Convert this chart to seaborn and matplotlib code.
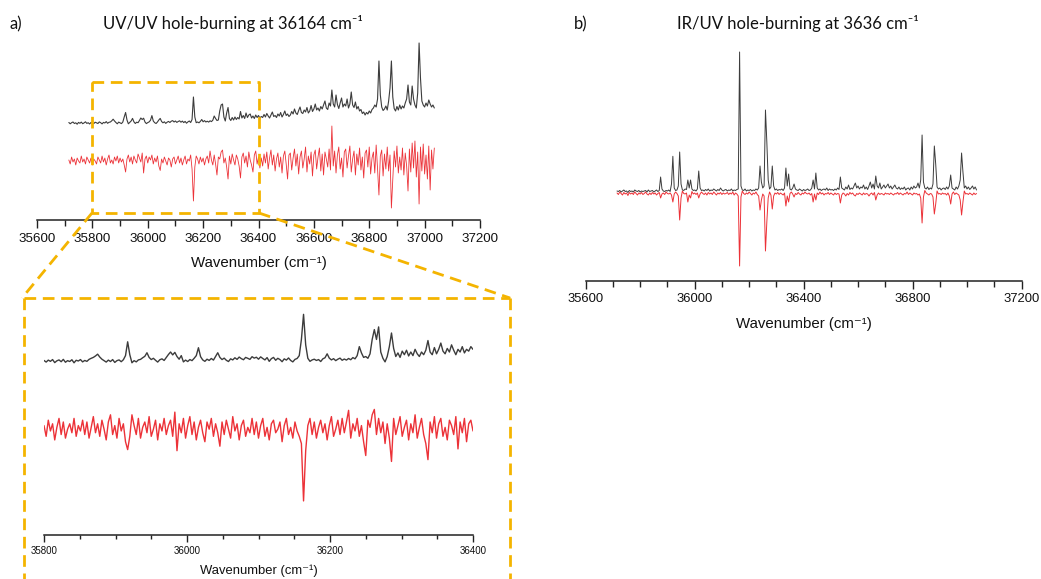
import numpy as np
import pandas as pd
import matplotlib
matplotlib.use("Agg")
import matplotlib.pyplot as plt
from matplotlib.lines import Line2D
from matplotlib.ticker import MultipleLocator
import seaborn as sns

# ---------------- data ----------------
WN_START = 35715      # first wavenumber of each overview trace (cm-1)
WN_STEP = 5           # sampling step of overview traces (cm-1)
INSET_START = 35800   # first wavenumber of the zoomed traces (cm-1)
INSET_STEP = 3        # sampling step of the zoomed traces (cm-1)

# a) UV/UV hole-burning: monitor trace (black) and hole-burning trace (red)
uvuv_monitor = [
    0.5, -0.8, 0.3, 1.0, -0.5, 0.2, -1.2, 0.6, -0.3, 0.9, -0.7, 0.1, 1.2, -0.4, 0.3, -1.0, 0.5, 0.0, -0.6, 0.8,
    0.2, -0.5, 1.1, 0.3, -0.9, 0.6, 0.0, 1.4, -0.3, 0.7, 1.0, 2.2, 3.8, 2.0, 0.5, -0.8, 0.9, 0.2, -0.6, 1.0,
    6.0, 10.5, 3.0, -0.8, 0.6, 2.0, 4.6, 1.2, -0.5, 0.8, 0.3, 2.5, 5.0, 3.5, 4.8, 1.0, -0.6, 0.4, 1.1, 2.8,
    7.4, 2.0, 0.3, -0.5, 1.0, 3.0, 4.6, 1.5, 0.2, 1.2, -0.4, 0.8, 1.6, 0.5, 1.8, 2.4, 1.0, 2.0, 0.6, 1.5,
    2.2, 0.8, 1.9, 0.4, 1.6, -0.2, 1.1, 2.0, 0.5, 3.5, 26.0, 6.0, 0.3, 1.0, 0.2, 1.6, 3.5, 1.2, 2.4, 1.0,
    1.8, 0.9, 2.2, 1.4, 2.8, 7.0, 4.5, 2.5, 3.0, 12.0, 18.0, 19.0, 6.0, 2.0, 10.0, 15.5, 4.5, 2.5, 5.5, 3.0,
    6.0, 3.5, 5.5, 4.0, 11.5, 5.0, 7.5, 4.5, 10.0, 5.5, 8.0, 9.0, 5.0, 7.0, 4.5, 8.0, 5.5, 7.5, 5.0, 6.5,
    5.5, 8.5, 6.0, 9.5, 7.0, 5.0, 8.0, 11.0, 6.5, 7.5, 5.5, 9.0, 7.0, 10.5, 6.0, 8.5, 12.0, 7.5, 9.0, 6.5,
    8.0, 11.5, 9.0, 14.0, 10.0, 8.5, 12.5, 16.0, 10.5, 9.5, 13.0, 11.0, 15.5, 10.0, 12.0, 17.5, 11.5, 14.0, 19.0, 13.0,
    15.0, 12.0, 16.5, 14.0, 18.0, 22.0, 15.0, 13.5, 20.0, 17.0, 33.0, 19.0, 16.0, 28.0, 18.5, 14.5, 20.0, 25.0, 16.0, 19.0,
    17.0, 24.0, 15.0, 19.0, 31.0, 18.0, 15.5, 21.0, 14.0, 16.5, 12.0, 13.5, 9.5, 11.0, 8.0, 10.5, 9.0, 12.0, 10.0, 13.5,
    15.0, 18.0, 16.0, 24.0, 62.0, 28.0, 16.0, 12.5, 14.0, 17.0, 13.0, 22.0, 35.0, 62.0, 26.0, 14.5, 12.0, 16.5, 13.0, 18.0,
    14.0, 17.0, 15.0, 20.0, 24.0, 38.0, 21.0, 18.0, 37.0, 24.0, 18.0, 15.0, 30.0, 80.0, 45.0, 22.0, 18.0, 16.0, 20.0, 17.0,
    23.0, 19.0, 16.0, 18.0, 15.0,
]
uvuv_burn = [
    1, -3, 4, -1, 2, -4, 3, 0, -2, 5, -1, 2, -3, 4, 1, -2, 3, -4, 2, 0,
    -3, 4, 1, -2, 5, -1, 3, -4, 2, 6, -2, 1, -3, 4, 0, 5, -2, 3, -1, 2,
    -4, -11, 2, 6, -1, 4, -3, 5, 1, -2, 7, 3, -1, 8, -12, 2, 5, -2, 4, 1,
    6, -3, 3, -1, 5, -5, -9.5, 2, -2, 4, 0, -4, 3, 1, -6, 2, 4, -3, 1, 5,
    -2, 3, -4, 1, 5, -3, 2, 0, 6, -8, -40, -6, 5, 2, -3, 4, -1, 3, -4, 2,
    5, -2, 10, 1, -4, 6, -3, -14, 4, 2, 9, 11, -2, 3, -6, -18, 5, -3, 7, 1,
    -4, 6, 2, -5, -17, 4, 8, -2, 5, -6, 9, 1, -4, -11, 6, 10, -3, 4, -7, 3,
    -5, 7, -2, 9, -8, 3, 11, -4, 6, -10, 2, 8, -6, 4, -12, 5, 10, -3, -18, 6,
    8, -9, 3, 12, -5, 7, -13, 4, 10, -7, 2, 14, -11, 5, -3, 9, -15, 6, 11, -8,
    4, 13, -10, 7, -14, 9, 2, -6, 12, -9, 35, -5, 10, -12, 6, 14, -8, 3, -16, 9,
    12, -7, 5, 15, -11, 2, 10, -14, 7, -4, 13, -9, 4, -17, 8, 11, -6, 14, -13, 3,
    9, -12, 16, -8, -34, 5, 11, -15, 7, -8, 14, -10, 6, -47, -18, 10, -6, 15, -12, 4,
    -9, 13, -14, 8, -5, -30, 12, -11, 18, -7, 20, -16, 9, -43, 14, -10, 17, -13, 6, -18,
    15, -29, 11, -8, 13,
]

# a) zoomed region 35800-36400 cm-1, read from the enlarged view
zoom_monitor = [
    0.3, -0.6, 0.5, -0.2, 0.8, -0.9, 0.1, 0.6, -0.4, 0.9, -0.7, 0.2, -0.3, 0.7, -1.0, 0.4, 0.0, 0.8, -0.5, 0.3,
    -0.2, 0.9, 1.5, 2.0, 2.8, 3.8, 2.2, 1.0, 0.2, -0.6, 0.5, -0.3, 0.8, -0.8, 0.2, 0.6, -0.4, 0.7, 3.0, 10.7,
    3.5, -1.0, 0.2, -0.5, 0.6, 0.9, 1.8, 2.6, 4.6, 2.0, 0.8, 1.5, 0.4, -0.6, 0.7, 1.2, 0.3, 2.0, 3.6, 5.0,
    3.4, 4.8, 2.5, 1.0, 3.0, -0.5, 0.5, -0.3, 0.8, 0.2, 1.5, 3.0, 7.4, 2.4, 0.6, -0.2, 1.0, 0.3, 1.4, 0.5,
    2.5, 4.6, 2.0, 0.8, 1.6, 0.4, -0.3, 1.2, 0.6, 1.8, 0.9, 2.2, 1.3, 0.7, 2.0, 1.5, 0.9, 2.4, 1.6, 2.1,
    1.0, 2.3, 1.4, 0.6, 1.9, -0.2, 1.3, 2.0, 0.4, 1.5, 0.8, -0.4, 1.2, 0.5, 1.7, 0.3, -0.5, 0.9, 1.4, 3.0,
    12.0, 26.0, 9.0, 1.5, -0.2, 0.6, 1.0, 0.3, 0.8, -0.3, 1.2, 1.8, 4.0, 1.6, 0.6, 1.3, 0.2, 1.0, 1.6, 0.4,
    1.1, 0.5, 1.4, 0.7, 1.9, 1.2, 3.0, 8.0, 4.5, 2.0, 2.5, 1.5, 4.0, 12.0, 17.5, 12.0, 19.0, 5.0, 1.5, -0.5,
    2.5, 8.0, 15.6, 7.0, 2.5, 4.5, 2.0, 5.5, 3.5, 6.0, 2.8, 5.0, 3.0, 6.5, 4.0, 2.5, 5.0, 3.5, 6.0, 11.4,
    5.0, 3.5, 7.5, 4.0, 6.5, 10.0, 5.5, 4.0, 7.0, 5.0, 9.0, 6.0, 3.5, 6.5, 5.0, 8.0, 4.5, 6.5, 5.5, 8.0,
    6.5,
]
zoom_burn = [
    2, -4, 5, -1, 3, -6, 1, 6, -3, 4, -5, 0, 3, -2, 6, -4, 2, -1, 5, -3,
    4, -5, 1, 7, -2, 3, -4, 5, 0, -6, 4, 8, -3, 2, -5, 6, -1, 3, -7, -11.4,
    -4, 8, 2, -3, 6, -5, 1, 4, -2, 7, -4, 0, 5, -6, 3, -1, 6, -3, 2, 5,
    -4, 9.5, -12, 3, -2, 6, -5, 2, 7, -3, 4, -6, 1, 5, -2, -7, 4, 0, 6, -4,
    3, -2, -9.5, 4, -3, 5, 0, -5, 7, -1, 3, -6, 2, 5, -4, 1, -2, 6, -3, 4,
    -5, 2, 6, -4, 1, -6, 3, 5, -2, 0, 4, -7, 2, 6, -3, 1, -5, 4, -1, -4,
    -8, -40, -12, 2, 6, -3, 4, -5, 1, 5, -2, 3, -6, 2, 7, -4, 0, 5, -3, 6,
    -2, 4, 10.5, -5, 3, -1, 6, -4, 2, -7, -14.7, 5, 1, 8, 11, -3, 6, -2, 4, -8,
    3, -5, -18, 6, -3, 2, 7, -4, 1, 5, -6, 3, -2, 8, -5, 1, 6, -3, -8, -17,
    4, -2, 7, -5, 3, 6, -4, 1, -6, 5, 2, -3, 7, -11, 4, -2, 6, -7, 3, 5,
    -1,
]

# b) IR/UV hole-burning: monitor trace (black) and hole-burning trace (red)
iruv_monitor = [
    1, 0.5, 1.5, 0, 1, 2, 0.5, 1, -0.5, 1.5, 0.5, 1, 0, 2, 1, 0.5, 1.5, 0, 1, 0.5,
    1, 1.5, 0, 2, 0.5, 1, 1.5, 0, 1, 2, 0.5, 1.5, 15, 3, 1, 0.5, 1.5, 1, 2, 0.5,
    8, 35.7, 4, 1.5, 2, 6, 40, 8, 2, 1.5, 3, 2.5, 12, 4, 12, 3, 1.5, 2, 1, 3,
    21, 4, 1.5, 2, 1, 2.5, 1.5, 3, 1, 2, 1.5, 3, 2, 1, 2.5, 1.5, 4, 2, 1, 2,
    2.5, 1, 2, 1.5, 3, 1, 2, 1.5, 2.5, 3, 140, 6, 2, 1.5, 3, 1, 2, 1.5, 2.5, 1,
    2, 1.5, 3, 2, 4, 26, 10, 4, 6, 82, 50, 12, 3, 5, 26, 6, 2, 3, 1.5, 2.5,
    2, 3, 1.5, 4, 24, 6, 18, 3, 2, 4, 8, 3, 2, 1.5, 3, 2, 1, 2.5, 1.5, 2,
    3, 1.5, 2, 4, 12, 3, 19, 4, 2, 3, 1.5, 2.5, 3, 2, 4, 1.5, 3, 2, 2.5, 1.5,
    3, 2, 4, 2.5, 15, 4, 3, 2, 5, 3, 7, 2.5, 4, 3, 6, 9, 4, 6, 3, 5,
    4, 7, 3, 5, 2.5, 6, 10, 4, 8, 3, 16, 6, 4, 9, 3, 5, 7, 4, 6, 8,
    4, 6, 3, 5, 7, 4, 3, 5, 2.5, 4, 3, 5, 2, 3.5, 4, 2, 5, 3, 6, 4,
    5, 9, 4, 12, 57, 10, 4, 3, 5, 2.5, 4, 3, 8, 46, 28, 5, 3, 4, 2, 3.5,
    4, 2.5, 5, 3, 6, 17, 4, 3, 2, 5, 3, 6, 12, 39, 20, 4, 6, 3, 5, 2.5,
    4, 6, 3, 5, 2,
]
iruv_burn = [
    -1, -2.5, 0, -1.5, -3, -0.5, -2, -1, -3.5, -0.5, -2, -1, -2.5, 0, -1.5, -3, -1, -2, -0.5, -2.5,
    -1.5, 0, -2, -3, -1, -2.5, -0.5, -2, -1, -3, -1.5, -0.5, -6, -2, -1, -2.5, 0, -1.5, -2, -1,
    -3, -10, -2, 0, -1.5, -4, -28, -6, 1, -1.5, -2, -1, -10, -3, -6, 0.5, -2, -1, -2.5, -1,
    -6, -2, 0, -1.5, -2.5, -1, -3, -0.5, -2, -1, -2.5, 0, -1.5, -3, -1, -2, -0.5, -2.5, -1, -2,
    -1.5, -0.5, -2.5, -1, -2, 0, -3, -1, -2, -4, -74, -5, 1, -1.5, -2.5, -1, -2, 0, -1.5, -3,
    -1, -2, 0, -2.5, -4, -18, -8, -2, -4, -59, -30, -6, 0, -3, -17, -4, -1, -2, -0.5, -2.5,
    -1, -2, -3, -1, -14, -4, -10, -1.5, 0, -2, -5, -1.5, -2.5, -0.5, -2, -3, -1, -2, 0, -1.5,
    -2, -1, -3, -1.5, -10, -2, -8, -1, -2.5, 0, -2, -1, -3, -1.5, -2, -0.5, -2.5, -1, -2, -3,
    -1, -2.5, -1.5, -2, -11, -3, -1, -2, -4, -1.5, -3, -0.5, -2, -1, -3, -4, -1.5, -2.5, -1, -2,
    -3, -1, -2.5, -1.5, -2, -4, -2, -1, -3, -0.5, -8, -3, -1, -2.5, -1.5, -2, -3, -1, -2, -1.5,
    -2.5, -1, -2, -3, -1.5, -2, -0.5, -2.5, -1, -2, -3, -1.5, -2, 0, -2.5, -1, -2, -3, -1, -2,
    -1.5, -3, -2, -6, -31, -5, 1.5, -1, -2, -3, -1.5, -2, -5, -22, -12, 1, -2, -1.5, -2.5, -1,
    -2, -1.5, -3, -1, -4, -12, -2, 0, -2.5, -1, -2, -3, -8, -23, -10, 1, -2, -1.5, -2.5, -1,
    -2, -3, -1, -2.5, -1.5,
]

ticks_a = [35600, 35800, 36000, 36200, 36400, 36600, 36800, 37000, 37200]
ticks_inset = [35800, 36000, 36200, 36400]
ticks_b = [35600, 36000, 36400, 36800, 37200]
zoom_range = (35800, 36400)

title_a = "UV/UV hole-burning at 36164 cm⁻¹"
title_b = "IR/UV hole-burning at 3636 cm⁻¹"
xlabel = "Wavenumber (cm⁻¹)"

# ---------------- styling ----------------
sns.set_theme(style="white")
plt.rcParams["font.family"] = ["Liberation Sans", "DejaVu Sans"]
TITLE_FONT = ["Lato", "DejaVu Sans"]
BLACK = "#3c3c3c"
RED = "#ec3238"
ORANGE = "#f4b400"
AXC = "#222222"

W, H = 1041, 579
fig = plt.figure(figsize=(W / 100, H / 100), dpi=100)


def rect(x0, ytop, x1, ybot):
    return [x0 / W, (H - ybot) / H, (x1 - x0) / W, (ybot - ytop) / H]


def frame(x0, y):
    return x0 / W, (H - y) / H


def trace_frame(values, start, step):
    wn = start + step * np.arange(len(values))
    return pd.DataFrame({"wn": wn, "y": np.asarray(values, dtype=float)})


def style_axis(ax, xlim, ticks, minor, fs_tick, fs_label, labelpad, major_len=6, minor_len=4):
    ax.set_xlim(*xlim)
    ax.set_xticks(ticks)
    ax.set_xticklabels([str(t) for t in ticks])
    ax.xaxis.set_minor_locator(MultipleLocator(minor))
    ax.set_yticks([])
    for s in ("left", "right", "top"):
        ax.spines[s].set_visible(False)
    ax.spines["bottom"].set_color(AXC)
    ax.spines["bottom"].set_linewidth(1.1)
    ax.tick_params(axis="x", which="major", direction="out", length=major_len, width=1.0,
                   color=AXC, labelsize=fs_tick, pad=3, bottom=True, labelcolor="#111111")
    ax.tick_params(axis="x", which="minor", direction="out", length=minor_len, width=1.0,
                   color=AXC, bottom=True)
    ax.set_xlabel(xlabel, fontsize=fs_label, labelpad=labelpad, color="#111111")
    ax.set_ylabel("")
    ax.patch.set_alpha(0)


df_a_mon = trace_frame(uvuv_monitor, WN_START, WN_STEP)
df_a_burn = trace_frame(uvuv_burn, WN_START, WN_STEP)
df_z_mon = trace_frame(zoom_monitor, INSET_START, INSET_STEP)
df_z_burn = trace_frame(zoom_burn, INSET_START, INSET_STEP)
df_b_mon = trace_frame(iruv_monitor, WN_START, WN_STEP)
df_b_burn = trace_frame(iruv_burn, WN_START, WN_STEP)

OFF_A_MON, OFF_A_BURN = 97, 59
OFF_B = 89

# ---- a) main panel ----
ax_a = fig.add_axes(rect(37, 35, 480, 220))
sns.lineplot(x=df_a_mon["wn"], y=df_a_mon["y"] + OFF_A_MON, ax=ax_a, color=BLACK, lw=0.8, sort=False)
sns.lineplot(x=df_a_burn["wn"], y=df_a_burn["y"] + OFF_A_BURN, ax=ax_a, color=RED, lw=0.6, sort=False)
ax_a.set_ylim(0, 185)
style_axis(ax_a, (35600, 37200), ticks_a, 100, 9.6, 10.8, 8)

# ---- a) inset (zoom) ----
ax_i = fig.add_axes(rect(44, 300, 473, 535))
sns.lineplot(x=df_z_mon["wn"], y=df_z_mon["y"] + OFF_A_MON, ax=ax_i, color=BLACK, lw=1.0, sort=False)
sns.lineplot(x=df_z_burn["wn"], y=df_z_burn["y"] + OFF_A_BURN, ax=ax_i, color=RED, lw=1.0, sort=False)
ax_i.set_ylim(0, 131)
style_axis(ax_i, zoom_range, ticks_inset, 50, 7, 9.4, 6, major_len=5, minor_len=3)

# ---- b) panel ----
ax_b = fig.add_axes(rect(585.7, 40, 1021.5, 281))
sns.lineplot(x=df_b_mon["wn"], y=df_b_mon["y"] + OFF_B, ax=ax_b, color=BLACK, lw=0.7, sort=False)
sns.lineplot(x=df_b_burn["wn"], y=df_b_burn["y"] + OFF_B, ax=ax_b, color=RED, lw=0.7, sort=False)
ax_b.set_ylim(0, 241)
style_axis(ax_b, (35600, 37200), ticks_b, 100, 9.4, 10.8, 8)

# ---- titles ----
fig.text(*frame(10, 24), "a)", fontsize=12, family=TITLE_FONT, va="center", ha="left", color="#111111")
fig.text(*frame(233, 24), title_a, fontsize=12, family=TITLE_FONT, va="center", ha="center", color="#111111")
fig.text(*frame(574, 24), "b)", fontsize=12, family=TITLE_FONT, va="center", ha="left", color="#111111")
fig.text(*frame(798, 24), title_b, fontsize=12, family=TITLE_FONT, va="center", ha="center", color="#111111")

# ---- zoom box and connectors (orange dashed) ----
dash = dict(color=ORANGE, lw=2.0, linestyle=(0, (4.2, 2.4)), transform=fig.transFigure, zorder=10)


def seg(points):
    xs = [p[0] / W for p in points]
    ys = [(H - p[1]) / H for p in points]
    fig.add_artist(Line2D(xs, ys, **dash))


seg([(92, 82), (259, 82), (259, 213), (92, 213), (92, 82)])
seg([(92, 213), (22, 298)])
seg([(259, 213), (510, 298)])
seg([(24, 298), (510, 298)])
seg([(24, 298), (24, 585)])
seg([(510, 298), (510, 585)])

fig.savefig("out.png", dpi=100)
